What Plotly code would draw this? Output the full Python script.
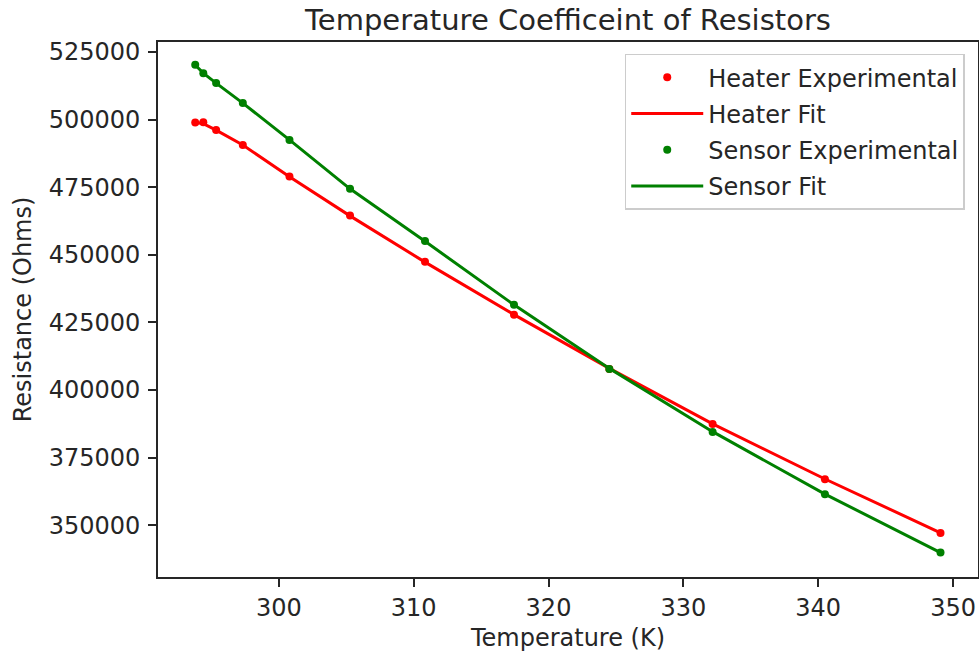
import plotly.graph_objects as go

# Data
temperature_k = [293.8, 294.4, 295.35, 297.33, 300.79, 305.28, 310.84,
                 317.44, 324.51, 332.17, 340.5, 349.07]

heater_experimental = [498900, 499050, 496200, 490600, 478950, 464500,
                       447400, 427800, 407800, 387400, 367000, 347150]
heater_fit = [499000, 498500, 496100, 490600, 478900, 464400,
              447300, 427900, 408000, 387500, 367100, 347200]

sensor_experimental = [520300, 517100, 513500, 506100, 492500, 474400,
                       455100, 431500, 407800, 384500, 361500, 339900]
sensor_fit = [520200, 517200, 513500, 506100, 492500, 474400,
              455000, 431500, 408000, 384600, 361500, 339900]

x_ticks = [300, 310, 320, 330, 340, 350]
y_ticks = [350000, 375000, 400000, 425000, 450000, 475000, 500000, 525000]

RED = "#ff0000"
GREEN = "#008000"
FONT = "DejaVu Sans"
TXT = "#262626"
FS = 24

fig = go.Figure()
fig.add_trace(go.Scatter(x=temperature_k, y=heater_experimental, mode="markers",
                         name="Heater Experimental", legendgroup="a",
                         marker=dict(color=RED, size=8)))
fig.add_trace(go.Scatter(x=temperature_k, y=heater_fit, mode="lines",
                         name="Heater Fit", legendgroup="b",
                         line=dict(color=RED, width=3)))
fig.add_trace(go.Scatter(x=temperature_k, y=sensor_experimental, mode="markers",
                         name="Sensor Experimental", legendgroup="c",
                         marker=dict(color=GREEN, size=8)))
fig.add_trace(go.Scatter(x=temperature_k, y=sensor_fit, mode="lines",
                         name="Sensor Fit", legendgroup="d",
                         line=dict(color=GREEN, width=3)))

axis_common = dict(
    showgrid=False, zeroline=False, showline=True, linecolor="#262626",
    linewidth=1.8, mirror=True, ticks="outside", ticklen=8, tickwidth=1.5,
    tickcolor="#262626", tickfont=dict(family=FONT, size=FS, color=TXT),
)

fig.update_layout(
    width=979, height=657,
    margin=dict(l=158, r=1, t=42, b=80, autoexpand=False),
    paper_bgcolor="white", plot_bgcolor="white",
    font=dict(family=FONT, color=TXT),
    title=dict(text="Temperature Coefficeint of Resistors",
               font=dict(family=FONT, size=29, color=TXT),
               x=(158 + 978) / 2 / 979, xanchor="center",
               y=1 - 20 / 657, yanchor="middle"),
    xaxis=dict(range=[291.04, 351.85], tickvals=x_ticks,
               ticktext=[str(v) for v in x_ticks],
               title=dict(text="Temperature (K)",
                          font=dict(family=FONT, size=FS, color=TXT),
                          standoff=8),
               **axis_common),
    yaxis=dict(range=[330860, 528702], tickvals=y_ticks,
               ticktext=[str(v) for v in y_ticks],
               ticklabelstandoff=3,
               title=dict(text="Resistance (Ohms)",
                          font=dict(family=FONT, size=FS, color=TXT),
                          standoff=10),
               **axis_common),
    legend=dict(x=0.9887 - 4 / 820, y=0.978, xanchor="right", yanchor="top",
                bgcolor="rgba(255,255,255,0.8)", bordercolor="#cccccc",
                borderwidth=1.5,
                font=dict(family=FONT, size=FS, color=TXT),
                itemwidth=72, tracegroupgap=2),
    showlegend=True,
)

fig.write_html("out.html", config={"displayModeBar": False},
               post_script="document.body.style.margin='0';")
